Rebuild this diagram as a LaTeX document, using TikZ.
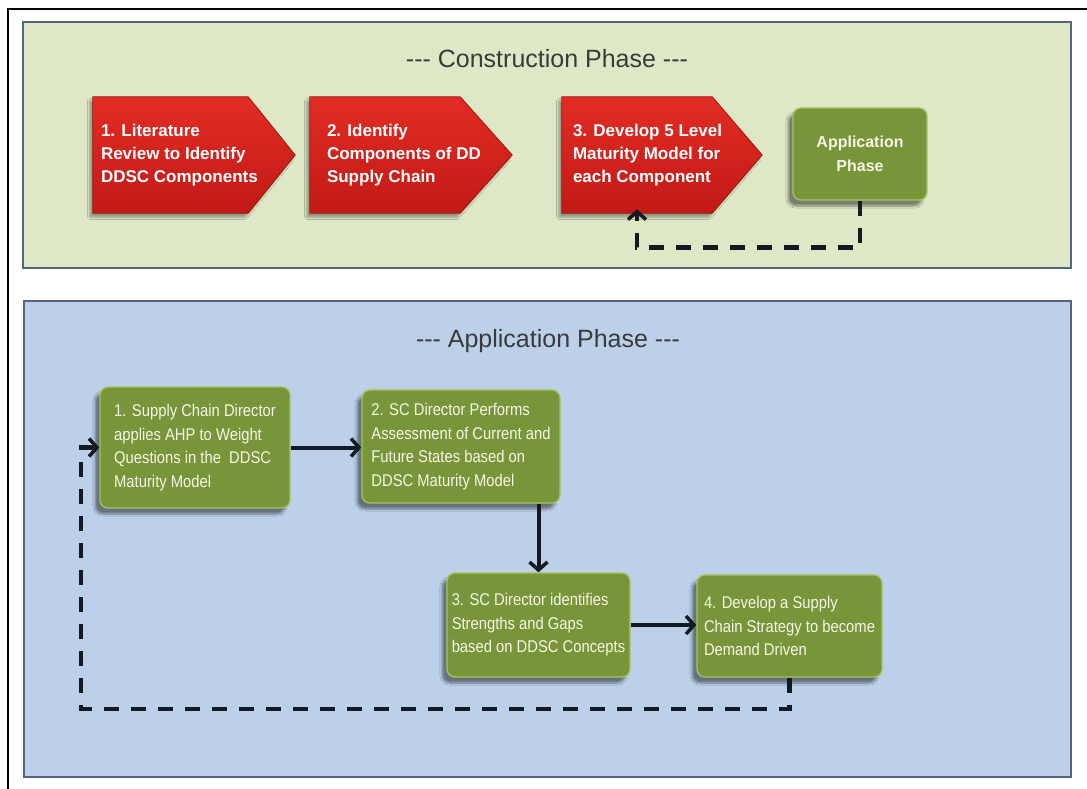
\documentclass[tikz,border=0pt]{standalone}
\usepackage{fontspec}
\setmainfont{Liberation Sans}
\newfontfamily\titlefont{Liberation Sans}
\newfontfamily\narrowsans[FakeStretch=0.87]{Liberation Sans}
\usetikzlibrary{arrows.meta,shadows.blur,calc}

\definecolor{framegreen}{HTML}{DEE8C6}
\definecolor{frameblue}{HTML}{BCD0EA}
\definecolor{panelline}{HTML}{56657F}
\definecolor{titlegrey}{HTML}{3A3A3A}
\definecolor{redtop}{HTML}{E22C24}
\definecolor{redbottom}{HTML}{C21A16}
\definecolor{rededge}{HTML}{9E1410}
\definecolor{boxgreen}{HTML}{78953A}
\definecolor{boxedge}{HTML}{A9C25E}
\definecolor{boxtext}{HTML}{F6F6E8}
\definecolor{linkblack}{HTML}{151A22}

\tikzset{
  phasepanel/.style={draw=panelline, line width=2.5pt},
  phasetitle/.style={font=\titlefont\fontsize{25}{30}\selectfont, text=titlegrey},
  stepbody/.style={rectangle, minimum width=#1, minimum height=116pt, inner sep=0pt},
  steptext/.style={font=\bfseries\fontsize{17}{23}\selectfont, text=white,
    align=left, inner sep=0pt, anchor=west},
  redarrow/.style={top color=redtop, bottom color=redbottom, draw=rededge,
    line width=0.8pt, line join=miter,
    blur shadow={shadow xshift=-3pt, shadow yshift=-4pt, shadow blur steps=6, shadow opacity=35}},
  greenbox/.style={rectangle, rounded corners=8pt, fill=boxgreen, draw=boxedge,
    line width=1.3pt, text=boxtext, align=left, inner xsep=2pt,
    font=\narrowsans\fontsize{17}{23.5}\selectfont,
    blur shadow={shadow xshift=-5pt, shadow yshift=-6pt, shadow blur steps=8, shadow opacity=45}},
  phasebox/.style={greenbox, font=\bfseries\fontsize{16}{24}\selectfont, align=center},
  flow/.style={draw=linkblack, line width=4pt,
    -{Straight Barb[length=8pt,width=18pt,line width=3.5pt]}},
  feedback/.style={draw=linkblack, line width=4.5pt, dash pattern=on 15pt off 12pt,
    -{Straight Barb[length=8pt,width=18pt,line width=3.5pt]}}
}

\begin{document}
\begin{tikzpicture}[x=1pt,y=-1pt]
\useasboundingbox (0,0) rectangle (1087,789);

% outer frame (top and left edges)
\draw[line width=2pt] (8,789) -- (8,9) -- (1087,9);

% phase panels
\draw[phasepanel, fill=framegreen] (23,22) rectangle (1071,268);
\draw[phasepanel, fill=frameblue] (24,301) rectangle (1071,777);

\node[phasetitle] (ctitle) at (547,59) {--- Construction Phase ---};
\node[phasetitle] (atitle) at (548,341) {--- Application Phase ---};

% construction steps: bodies of the arrow shapes
\node[stepbody=155pt] (c1) at (170.5,155) {};
\node[stepbody=150pt] (c2) at (385,155) {};
\node[stepbody=150pt] (c3) at (637,155) {};

\path[redarrow] (c1.north west) -- (c1.north east) -- ($(c1.east)+(47,0)$)
  -- (c1.south east) -- (c1.south west) -- cycle;
\path[redarrow] (c2.north west) -- (c2.north east) -- ($(c2.east)+(52,0)$)
  -- (c2.south east) -- (c2.south west) -- cycle;
\path[redarrow] (c3.north west) -- (c3.north east) -- ($(c3.east)+(50,0)$)
  -- (c3.south east) -- (c3.south west) -- cycle;

\node[steptext] (c1t) at ($(c1.west)+(8,0)$) {1. Literature\\Review to Identify\\DDSC Components};
\node[steptext] (c2t) at ($(c2.west)+(17,0)$) {2. Identify\\Components of DD\\Supply Chain};
\node[steptext] (c3t) at ($(c3.west)+(11,0)$) {3. Develop 5 Level\\Maturity Model for\\each Component};

\node[phasebox, minimum width=134pt, minimum height=92pt] (app) at (860,154) {Application\\Phase};

\draw[feedback] (app.south) -- ++(0,47) -| ([yshift=4pt]c3.south);

% application steps
\node[greenbox, minimum width=190pt, minimum height=121pt] (b1) at (195,447.5)
  {1. Supply Chain Director\\applies AHP to Weight\\Questions in the\ \ DDSC\\Maturity Model};
\node[greenbox, minimum width=198pt, minimum height=113pt] (b2) at (461,446.5)
  {2. SC Director Performs\\Assessment of Current and\\Future States based on\\DDSC Maturity Model};
\node[greenbox, minimum width=183pt, minimum height=104pt] (b3) at (538.5,625)
  {3. SC Director identifies\\Strengths and Gaps\\based on DDSC Concepts};
\node[greenbox, minimum width=185pt, minimum height=102pt] (b4) at (789.5,626)
  {4. Develop a Supply\\Chain Strategy to become\\Demand Driven};

\draw[flow] (b1.east) -- (b1.east -| b2.west);
\draw[flow] (b3.north |- b2.south) -- (b3.north);
\draw[flow] (b3.east) -- (b3.east -| b4.west);

\coordinate (loopcorner) at (81,709);
\draw[feedback] (b4.south) |- (loopcorner) |- (b1.west);
\end{tikzpicture}
\end{document}
